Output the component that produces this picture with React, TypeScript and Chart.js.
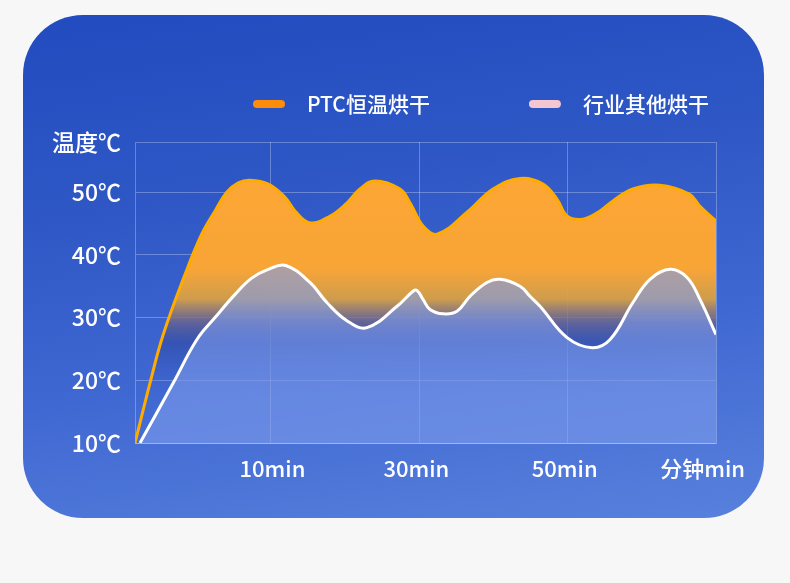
import React, { useEffect, useRef } from 'react';
import { Chart, registerables } from 'chart.js';

Chart.register(...registerables);

// ---- data ----
const seriesNames = ['PTC恒温烘干', '行业其他烘干'];
const legendColors = ['#ff8c0a', '#f5c6d2'];

const ptcX = [0.0836, 0.185, 0.274, 0.421, 0.533, 0.623, 0.702, 0.78, 0.859, 0.982, 1.095, 1.162, 1.264, 1.4, 1.5, 1.6, 1.7, 1.87, 1.94, 2.025, 2.12, 2.322, 2.497, 2.679, 2.834, 2.928, 2.996, 3.103, 3.218, 3.305, 3.44, 3.62, 3.82, 3.89, 4.0];
const ptcY = [10, 19.6, 27.3, 36.9, 43.3, 47, 50, 51.5, 51.9, 51.3, 49.2, 47, 45.1, 46.2, 48, 50.5, 51.8, 50.5, 48.2, 44.6, 43.3, 46.8, 50.5, 52.2, 51.3, 48.9, 46.2, 45.7, 47, 48.6, 50.5, 51.1, 49.7, 47.8, 45.4];

const otherX = [0.117, 0.342, 0.501, 0.623, 0.758, 0.87, 0.982, 1.1, 1.263, 1.377, 1.512, 1.647, 1.85, 1.958, 1.985, 2.025, 2.072, 2.16, 2.254, 2.342, 2.456, 2.545, 2.679, 2.746, 2.814, 2.996, 3.165, 3.286, 3.44, 3.555, 3.69, 3.805, 3.892, 4.0];
const otherY = [10, 19.6, 26.5, 30, 33.7, 36.3, 37.7, 38.3, 35.6, 32.4, 29.5, 28.4, 31.8, 34.2, 34.3, 32.9, 31.3, 30.6, 31, 33.4, 35.6, 36.1, 35, 33.4, 31.8, 26.8, 25.2, 26.5, 32.4, 36.1, 37.7, 36.4, 32.9, 27.3];

const xGridValues = [1, 2, 3, 4];
const xTickLabels = ['10min', '30min', '50min', '分钟min'];
const xLabelValues = [1.01, 1.98, 2.98, 3.91];
const yTickValues = [10, 20, 30, 40, 50, 58];
const yTickLabels = ['10℃', '20℃', '30℃', '40℃', '50℃', '温度℃'];

const FONT = "'Noto Sans CJK SC', 'Noto Sans', sans-serif";
const GRID = 'rgba(255,255,255,0.28)';

const legendPlugin = {
  id: 'customLegend',
  afterDraw(chart: any) {
    const ctx = chart.ctx;
    ctx.save();
    const y = 104;
    const boxW = 32;
    const boxH = 8;
    const textGap = 22;
    const itemGap = 99;
    let x = 253;
    ctx.font = `500 21px ${FONT}`;
    chart.data.datasets.forEach((ds: any, i: number) => {
      ctx.fillStyle = legendColors[i];
      ctx.beginPath();
      ctx.roundRect(x, y - boxH / 2, boxW, boxH, boxH / 2);
      ctx.fill();
      ctx.fillStyle = '#ffffff';
      ctx.textBaseline = 'middle';
      ctx.textAlign = 'left';
      ctx.fillText(ds.label, x + boxW + textGap, y);
      x += boxW + textGap + ctx.measureText(ds.label).width + itemGap;
    });
    ctx.restore();
  },
};

function orangeFill(context: any) {
  const chart = context.chart;
  const { chartArea, scales } = chart;
  if (!chartArea) return 'rgba(252,166,52,1)';
  const y = scales.y;
  const top = y.getPixelForValue(52);
  const bottom = y.getPixelForValue(18);
  const g = chart.ctx.createLinearGradient(0, top, 0, bottom);
  g.addColorStop(0, 'rgba(252,166,52,1)');
  g.addColorStop(0.42, 'rgba(248,165,55,1)');
  g.addColorStop(0.56, 'rgba(215,160,70,0.95)');
  g.addColorStop(0.67, 'rgba(110,100,135,0.75)');
  g.addColorStop(0.77, 'rgba(45,65,150,0.45)');
  g.addColorStop(1, 'rgba(50,80,190,0)');
  return g;
}

export default function App() {
  const ref = useRef<HTMLCanvasElement | null>(null);

  useEffect(() => {
    if (!ref.current) return;
    const chart = new Chart(ref.current, {
      type: 'line',
      data: {
        datasets: [
          {
            label: seriesNames[0],
            data: ptcX.map((x, i) => ({ x, y: ptcY[i] })),
            borderColor: '#ffab00',
            borderWidth: 3,
            backgroundColor: orangeFill,
            fill: 'start',
            pointRadius: 0,
            tension: 0.4,
            order: 1,
          },
          {
            label: seriesNames[1],
            data: otherX.map((x, i) => ({ x, y: otherY[i] })),
            borderColor: '#ffffff',
            borderWidth: 3,
            backgroundColor: 'rgba(125,155,235,0.6)',
            fill: 'start',
            pointRadius: 0,
            tension: 0.4,
            order: 0,
          },
        ],
      },
      options: {
        responsive: false,
        animation: false,
        layout: { padding: { left: 0, right: 74, top: 142, bottom: 0 } },
        plugins: {
          legend: { display: false },
          tooltip: { enabled: false },
        },
        scales: {
          x: {
            type: 'linear',
            min: 0.0836,
            max: 4,
            afterBuildTicks: (scale: any) => {
              scale.ticks = xGridValues.map((v) => ({ value: v }));
            },
            afterFit: (scale: any) => {
              scale.height = 0;
            },
            ticks: { display: false },
            grid: { color: GRID, drawTicks: false, lineWidth: 1 },
            border: { display: true, color: GRID },
          },
          xLabels: {
            type: 'linear',
            axis: 'x',
            position: 'bottom',
            min: 0.0836,
            max: 4,
            afterBuildTicks: (scale: any) => {
              scale.ticks = xLabelValues.map((v) => ({ value: v }));
            },
            afterFit: (scale: any) => {
              scale.height = 583 - 443;
            },
            ticks: {
              color: '#ffffff',
              padding: 12,
              font: { family: FONT, size: 22, weight: '500' },
              callback: (v: any) => {
                const i = xLabelValues.indexOf(Number(v));
                return i >= 0 ? xTickLabels[i] : '';
              },
              maxRotation: 0,
              autoSkip: false,
            },
            grid: { display: false, drawTicks: false },
            border: { display: false },
          },
          y: {
            type: 'linear',
            min: 10,
            max: 58,
            afterBuildTicks: (scale: any) => {
              scale.ticks = yTickValues.map((v) => ({ value: v }));
            },
            afterFit: (scale: any) => {
              scale.width = 135;
            },
            ticks: {
              color: '#ffffff',
              padding: 14,
              font: { family: FONT, size: 23, weight: '500' },
              callback: (v: any) => {
                const i = yTickValues.indexOf(Number(v));
                return i >= 0 ? yTickLabels[i] : '';
              },
              autoSkip: false,
            },
            grid: { color: GRID, drawTicks: false, lineWidth: 1 },
            border: { display: true, color: GRID },
          },
        },
      },
      plugins: [legendPlugin],
    } as any);
    return () => chart.destroy();
  }, []);

  return (
    <div style={{ position: 'fixed', left: 0, top: 0, width: 790, height: 583, background: '#f7f7f7', overflow: 'hidden' }}>
      <div
        style={{
          position: 'absolute',
          left: 23,
          top: 15,
          width: 741,
          height: 503,
          borderRadius: 60,
          background: 'linear-gradient(172deg, #214bbf 0%, #2f58c6 35%, #4068d2 65%, #5881dd 100%)',
        }}
      />
      <canvas ref={ref} width={790} height={583} style={{ position: 'absolute', left: 0, top: 0, width: 790, height: 583 }} />
    </div>
  );
}
